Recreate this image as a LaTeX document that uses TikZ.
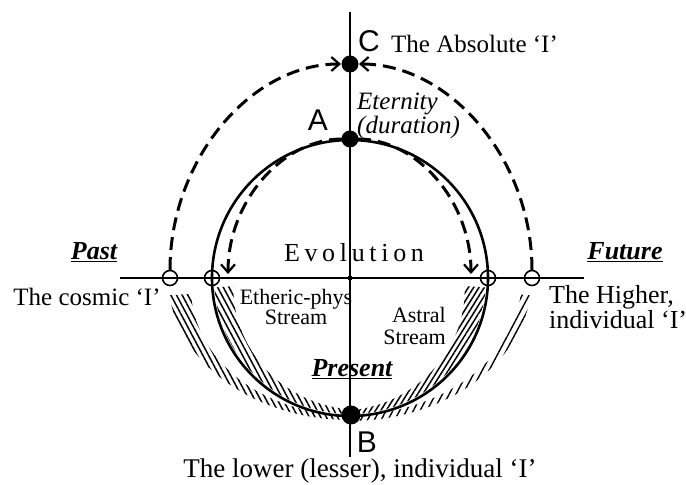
\documentclass[tikz,border=0pt]{standalone}
\usepackage{fontspec}
\setmainfont{Liberation Serif}
\setsansfont{Liberation Sans}
\usetikzlibrary{arrows.meta,patterns.meta}
\begin{document}
\begin{tikzpicture}[x=1pt,y=1pt,
    >={Straight Barb[length=8pt,width=14pt,line width=2.2pt]},
    dot/.style={circle,fill,inner sep=0pt,minimum size=17pt},
    ring/.style={circle,draw,line width=1.6pt,inner sep=0pt,minimum size=15pt},
    lbl/.style={inner sep=0pt,font=\fontsize{25}{22}\selectfont},
    small/.style={inner sep=0pt,font=\fontsize{22}{20}\selectfont},
    head/.style={inner sep=0pt,font=\fontsize{26}{26}\bfseries\itshape},
    letter/.style={inner sep=0pt,font=\fontsize{30}{30}\sffamily\selectfont},
    dashpath/.style={line width=3pt,dash pattern=on 13pt off 7pt},
    hatchl/.style={pattern={Lines[angle=-62,distance=5pt,line width=1.5pt]}},
    hatchr/.style={pattern={Lines[angle=58,distance=4.5pt,line width=1.5pt]}}]
  \useasboundingbox (0,0) rectangle (686,485);
  \coordinate (vt) at (350,473);
  \coordinate (vb) at (350,28);
  \coordinate (hl) at (120,207);
  \coordinate (hr) at (584,207);
  \node[circle,fill,inner sep=0pt,minimum size=5pt] (O) at (350,207) {};
  \draw[line width=1.4pt] (vt) -- (vb);
  \draw[line width=1.4pt] (hl) -- (hr);

  \fill[hatchl] plot[domain=184:268,samples=40] ({350+136*cos(\x)},{207+136*sin(\x)})
    -- plot[domain=268:184,samples=40] ({350+(131-14*(268-\x)/84)*cos(\x)},{207+(131-14*(268-\x)/84)*sin(\x)}) -- cycle;
  \fill[hatchl] plot[domain=187:270,samples=40] ({350+182*cos(\x)},{207+142*sin(\x)})
    -- plot[domain=270:187,samples=40] ({350+(178-18*(270-\x)/83)*cos(\x)},{207+(138-8*(270-\x)/83)*sin(\x)}) -- cycle;
  \fill[hatchr] plot[domain=272:356,samples=40] ({350+136*cos(\x)},{207+136*sin(\x)})
    -- plot[domain=356:272,samples=40] ({350+(132-17*(\x-272)/84)*cos(\x)},{207+(132-17*(\x-272)/84)*sin(\x)}) -- cycle;
  \fill[pattern={Lines[angle=62,distance=6pt,line width=1.4pt]}] plot[domain=272:353,samples=40] ({350+182*cos(\x)},{207+143*sin(\x)})
    -- plot[domain=353:272,samples=40] ({350+(178-6*(\x-272)/81)*cos(\x)},{207+(137-2*(\x-272)/81)*sin(\x)}) -- cycle;

  \draw[line width=2.6pt] (O) circle[radius=138];

  \node[dot] (C) at (350,421) {};
  \node[dot] (A) at (350,346) {};
  \node[dot,minimum size=19pt] (B) at (351,70) {};
  \node[ring] (L) at (170,207) {};
  \node[ring] (R) at (532,207) {};
  \node[ring] (Lc) at (212,207) {};
  \node[ring] (Rc) at (488,207) {};

  \draw[dashpath,->,shorten <=8pt,shorten >=9pt] (L.center) arc[start angle=180,end angle=90,x radius=180,y radius=214];
  \draw[dashpath,->,shorten <=8pt,shorten >=9pt] (R.center) arc[start angle=0,end angle=90,x radius=182,y radius=214];
  \draw[dashpath,->,shorten <=8pt,shorten >=4pt] (A.center) arc[start angle=90,end angle=180,x radius=122,y radius=139];
  \draw[dashpath,->,shorten <=8pt,shorten >=4pt] (A.center) arc[start angle=90,end angle=0,x radius=121,y radius=139];

  \node[letter] (Cl) at (369,444) {C};
  \node[lbl,anchor=west] (Abs) at (391,441) {The Absolute ‘I’};
  \node[letter] (Al) at (318,365) {A};
  \node[lbl,anchor=west,align=left,font=\fontsize{25}{22}\itshape] (Et) at (357,369) {Eternity\\(duration)};
  \node[inner sep=0pt,font=\fontsize{26}{26}\selectfont\addfontfeature{LetterSpace=18}] (Ev) at (354,232) {Evolution};
  \node[head] (Past) at (94,233) {\underline{Past}};
  \node[lbl] (Cos) at (87,188) {The cosmic ‘I’};
  \node[head] (Fut) at (625,233) {\underline{Future}};
  \node[lbl,anchor=west,align=left,font=\fontsize{26}{22}\selectfont] (Hi) at (549,178) {The Higher,\\individual ‘I’};
  \node[small,align=center] (Eth) at (296,178) {Etheric-phys\\Stream};
  \node[small,anchor=east,align=right,font=\fontsize{22}{22}\selectfont] (Ast) at (446,159) {Astral\\Stream};
  \node[head] (Pres) at (352,116) {\underline{Present}};
  \node[letter] (Bl) at (367,43) {B};
  \node[lbl,font=\fontsize{27}{22}\selectfont] (Low) at (360,14) {The lower (lesser), individual ‘I’};
\end{tikzpicture}
\end{document}
